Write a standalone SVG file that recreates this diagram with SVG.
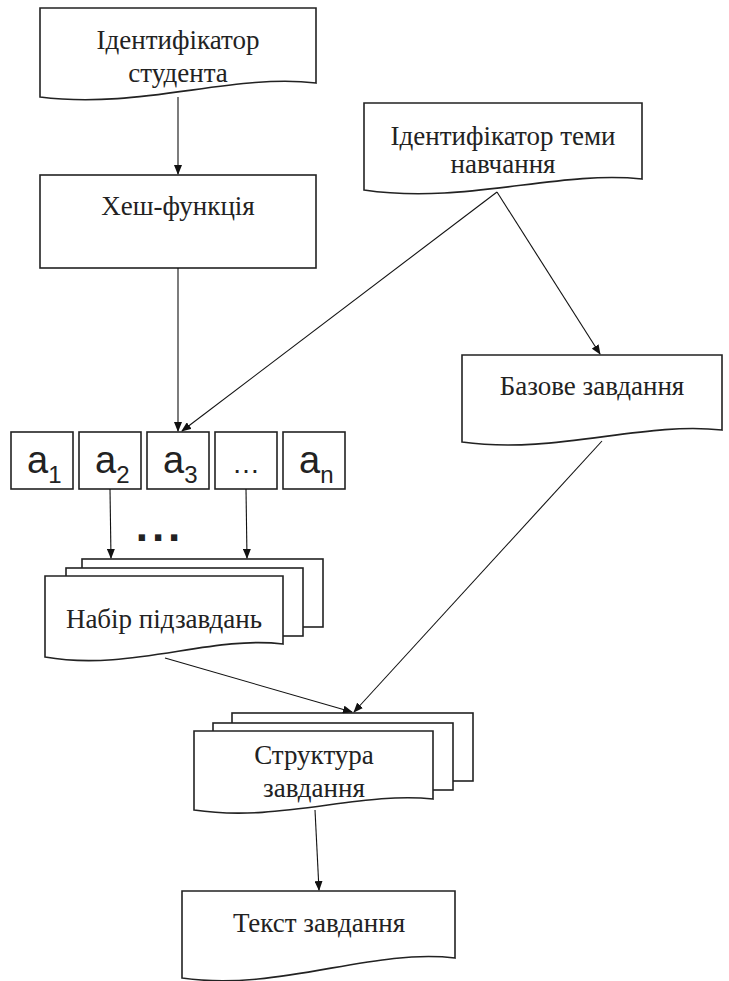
<svg xmlns="http://www.w3.org/2000/svg" width="729" height="981" viewBox="0 0 729 981">
<defs>
<marker id="ah" markerWidth="10" markerHeight="8" refX="9" refY="4" orient="auto" markerUnits="userSpaceOnUse">
<path d="M0,0 L10,4 L0,8 Z" fill="#111"/>
</marker>
<style>
.sh{fill:#fff;stroke:#222;stroke-width:1.6}
.t{font-family:"Liberation Serif","Times New Roman",serif;font-size:27px;fill:#222;text-anchor:middle}
.s{font-family:"Liberation Sans",Arial,sans-serif;fill:#222}
.c{fill:none;stroke:#111;stroke-width:1.1;marker-end:url(#ah)}
</style>
</defs>
<rect width="729" height="981" fill="#fff"/>

<g id="student-id">
<path class="sh" d="M40,8 H316 V83 C232,73 140,110 40,97 Z"/>
<text class="t" x="178" y="49">Ідентифікатор</text>
<text class="t" x="178" y="82">студента</text>
</g>

<g id="hash">
<rect class="sh" x="40" y="175" width="276" height="93"/>
<text class="t" x="178" y="215">Хеш-функція</text>
</g>

<g id="topic-id">
<path class="sh" d="M364,103 H642 V179 C557,170 465,205 364,190 Z"/>
<text class="t" x="503" y="145">Ідентифікатор теми</text>
<text class="t" x="503" y="173">навчання</text>
</g>

<g id="base-task">
<path class="sh" d="M462,355 H722 V430 C642,421 556,455 462,442 Z"/>
<text class="t" x="592" y="395">Базове завдання</text>
</g>

<g id="a1">
<rect class="sh" x="11" y="432" width="62" height="57"/>
<text class="s" x="27" y="473" font-size="38">a<tspan font-size="24" dy="10">1</tspan></text>
</g>
<g id="a2">
<rect class="sh" x="79" y="432" width="62" height="57"/>
<text class="s" x="95" y="473" font-size="38">a<tspan font-size="24" dy="10">2</tspan></text>
</g>
<g id="a3">
<rect class="sh" x="147" y="432" width="62" height="57"/>
<text class="s" x="163" y="473" font-size="38">a<tspan font-size="24" dy="10">3</tspan></text>
</g>
<g id="adots">
<rect class="sh" x="215" y="432" width="62" height="57"/>
<text class="s" x="246" y="473" font-size="28" text-anchor="middle">…</text>
</g>
<g id="an">
<rect class="sh" x="283" y="432" width="62" height="57"/>
<text class="s" x="299" y="473" font-size="38">a<tspan font-size="24" dy="10">n</tspan></text>
</g>

<g id="subtasks">
<rect class="sh" x="82" y="559" width="241" height="68"/>
<rect class="sh" x="66" y="568" width="237" height="68"/>
<path class="sh" d="M45,576 H283 V644 C210,635 130,672 45,657 Z"/>
<text class="t" x="164" y="628">Набір підзавдань</text>
</g>

<g id="structure">
<rect class="sh" x="232" y="713" width="241" height="68"/>
<rect class="sh" x="213" y="723" width="240" height="67"/>
<path class="sh" d="M194,731 H433 V799 C360,791 280,823 194,810 Z"/>
<text class="t" x="314" y="764">Структура</text>
<text class="t" x="314" y="797">завдання</text>
</g>

<g id="task-text">
<path class="sh" d="M182,891 H455 V958 C370,948 280,992 182,978 Z"/>
<text class="t" x="319" y="932">Текст завдання</text>
</g>

<g id="connectors">
<line class="c" x1="178" y1="97" x2="178" y2="174"/>
<line class="c" x1="178" y1="268" x2="178" y2="431"/>
<line class="c" x1="497" y1="192" x2="182" y2="431"/>
<line class="c" x1="497" y1="192" x2="600" y2="354"/>
<line class="c" x1="110" y1="489" x2="111" y2="558"/>
<line class="c" x1="246" y1="489" x2="247" y2="558"/>
<line class="c" x1="602" y1="441" x2="354" y2="712"/>
<line class="c" x1="165" y1="658" x2="352" y2="712"/>
<line class="c" x1="315" y1="810" x2="319" y2="890"/>
<text class="s" x="160" y="541" font-size="44" font-weight="bold" letter-spacing="4" text-anchor="middle">...</text>
</g>
</svg>
